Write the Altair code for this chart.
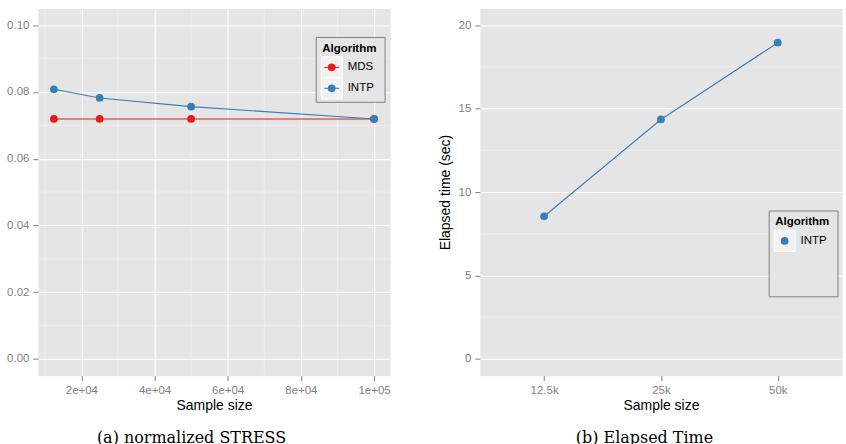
import altair as alt
import pandas as pd

# Normalized STRESS by sample size
stress_sizes = [12500, 25000, 50000, 100000]
stress_mds = [0.0719, 0.0719, 0.0719, 0.0719]
stress_intp = [0.0808, 0.0782, 0.0756, 0.0719]

# Elapsed time of the interpolation step
time_labels = ["12.5k", "25k", "50k"]
time_intp = [8.55, 14.35, 18.95]

algorithms = ["MDS", "INTP"]
palette = ["#E41A1C", "#377EB8"]

# Axis breaks (major and minor)
x_ticks = [20000, 40000, 60000, 80000, 100000]
x_tick_labels = ["2e+04", "4e+04", "6e+04", "8e+04", "1e+05"]
x_minor = [10000, 30000, 50000, 70000, 90000]
stress_ticks = [0.0, 0.02, 0.04, 0.06, 0.08, 0.10]
stress_minor = [0.01, 0.03, 0.05, 0.07, 0.09]
time_ticks = [0, 5, 10, 15, 20]
time_minor = [2.5, 7.5, 12.5, 17.5]

stress_df = pd.DataFrame({
    "size": stress_sizes * 2,
    "value": stress_mds + stress_intp,
    "Algorithm": ["MDS"] * len(stress_sizes) + ["INTP"] * len(stress_sizes),
})
time_df = pd.DataFrame({
    "size": time_labels,
    "value": time_intp,
    "Algorithm": ["INTP"] * len(time_labels),
})

W1, W2, H = 353, 363, 368
FONT = "Liberation Sans"
MINOR = "#F2F2F2"
PANEL = "#E5E5E5"
POINT_SIZE = 60
one = pd.DataFrame({"k": [0]})


def box(x, x2, y, y2, fill, stroke):
    return alt.Chart(one).mark_rect(fill=fill, stroke=stroke, strokeWidth=1).encode(
        x=alt.value(x), x2=alt.value(x2), y=alt.value(y), y2=alt.value(y2)
    )


def label(x, y, text, size=11.5, weight="normal", baseline="middle"):
    return alt.Chart(one).mark_text(
        font=FONT, fontSize=size, fontWeight=weight, align="left",
        baseline=baseline, color="black",
    ).encode(x=alt.value(x), y=alt.value(y), text=alt.value(text))


def caption(x, y, text):
    return alt.Chart(one).mark_text(
        font="DejaVu Serif", fontSize=16, align="center", baseline="alphabetic", color="black"
    ).encode(x=alt.value(x), y=alt.value(y), text=alt.value(text))


def key_legend(x0, y0, height, names, colors, with_line):
    """ggplot-style legend box: title, grey key squares, glyph and label per entry."""
    layers = [
        box(x0, x0 + 69, y0, y0 + height, PANEL, "#808080"),
        label(x0 + 6, y0 + 14.5, "Algorithm", weight="bold", baseline="alphabetic"),
    ]
    for i, (name, col) in enumerate(zip(names, colors)):
        cy = y0 + 30 + 21 * i
        layers.append(box(x0 + 5, x0 + 26, cy - 10.5, cy + 10.5, MINOR, "white"))
        if with_line:
            layers.append(
                alt.Chart(one).mark_rule(color=col, strokeWidth=1.1).encode(
                    x=alt.value(x0 + 8), x2=alt.value(x0 + 23), y=alt.value(cy)
                )
            )
        layers.append(
            alt.Chart(one).mark_point(filled=True, size=POINT_SIZE, color=col, opacity=1).encode(
                x=alt.value(x0 + 15.5), y=alt.value(cy)
            )
        )
        layers.append(label(x0 + 31.5, cy, name))
    return layers


color_scale = alt.Scale(domain=algorithms, range=palette)

# ---- left panel: normalized STRESS ----
xs1 = alt.Scale(domain=[8125, 104375], nice=False, zero=False)
ys1 = alt.Scale(domain=[-0.005, 0.105], nice=False, zero=False)
label_expr = " : ".join(
    f"datum.value == {v} ? '{t}'" for v, t in zip(x_ticks, x_tick_labels)
) + " : ''"
xa1 = alt.Axis(values=x_ticks, labelExpr=label_expr, title="Sample size")
ya1 = alt.Axis(values=stress_ticks, format=".2f", title=None)
X1 = alt.X("size:Q", scale=xs1, axis=xa1)
Y1 = alt.Y("value:Q", scale=ys1, axis=ya1)

left = alt.layer(
    alt.Chart(pd.DataFrame({"size": x_minor})).mark_rule(color=MINOR, strokeWidth=0.6).encode(x=X1),
    alt.Chart(pd.DataFrame({"value": stress_minor})).mark_rule(color=MINOR, strokeWidth=0.6).encode(y=Y1),
    alt.Chart(stress_df).mark_line(strokeWidth=1.1).encode(
        x=X1, y=Y1, stroke=alt.Stroke("Algorithm:N", scale=color_scale, legend=None)
    ),
    alt.Chart(stress_df).mark_point(filled=True, size=POINT_SIZE, opacity=1).encode(
        x=X1, y=Y1, fill=alt.Fill("Algorithm:N", scale=color_scale, legend=None)
    ),
    *key_legend(279, 29, 65, algorithms, palette, True),
    caption(154, 436, "(a) normalized STRESS"),
).properties(width=W1, height=H)

# ---- right panel: elapsed time ----
xs2 = alt.Scale(type="point", domain=time_labels, padding=0.55)
ys2 = alt.Scale(domain=[-1, 21], nice=False, zero=False)
xa2 = alt.Axis(labelAngle=0, title="Sample size")
ya2 = alt.Axis(values=time_ticks, title="Elapsed time (sec)")
X2 = alt.X("size:N", scale=xs2, axis=xa2, sort=time_labels)
Y2 = alt.Y("value:Q", scale=ys2, axis=ya2)

right = alt.layer(
    alt.Chart(pd.DataFrame({"value": time_minor})).mark_rule(color=MINOR, strokeWidth=0.6).encode(y=Y2),
    alt.Chart(time_df).mark_line(strokeWidth=1.1).encode(
        x=X2, y=Y2, stroke=alt.Stroke("Algorithm:N", scale=color_scale, legend=None)
    ),
    alt.Chart(time_df).mark_point(filled=True, size=POINT_SIZE, opacity=1).encode(
        x=X2, y=Y2, fill=alt.Fill("Algorithm:N", scale=color_scale, legend=None)
    ),
    *key_legend(290, 203, 86, algorithms[1:], palette[1:], False),
    caption(165, 436, "(b) Elapsed Time"),
).properties(width=W2, height=H)

chart = alt.hconcat(
    left, right, spacing=46,
    padding={"left": 6, "top": 7, "right": 3, "bottom": 0},
).resolve_scale(fill="independent", stroke="independent").configure_view(
    fill=PANEL, stroke="transparent"
).configure_axis(
    domain=False, tickColor="#7F7F7F", tickSize=5, tickWidth=1,
    labelColor="#7F7F7F", labelFont=FONT, labelFontSize=11.5, labelPadding=4,
    titleFont=FONT, titleFontSize=14, titleFontWeight="normal", titleColor="black",
    gridColor="white", gridWidth=1.1, titlePadding=2,
).configure_axisY(titlePadding=6)

chart.save("out.html", embed_options={"renderer": "svg", "actions": False})
